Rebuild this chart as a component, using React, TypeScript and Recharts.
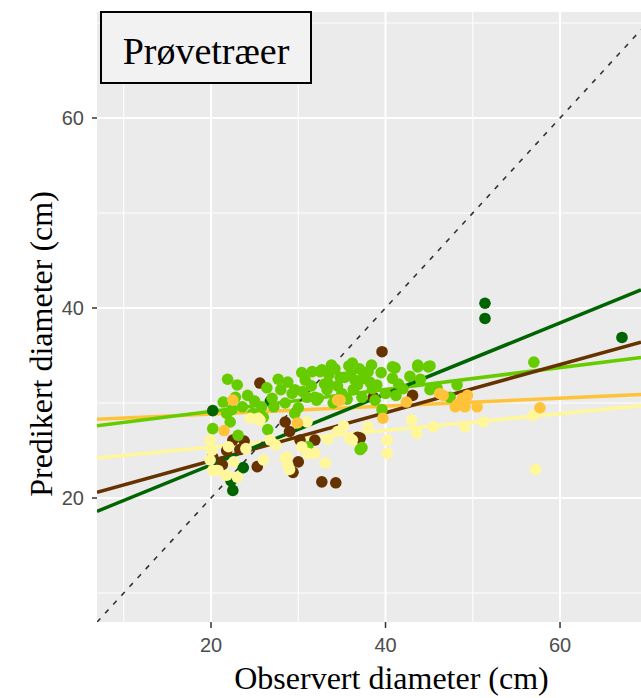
import { ScatterChart, Scatter, XAxis, YAxis, CartesianGrid, ReferenceLine } from "recharts";

// observed (x) vs predicted (y) diameter, one list per tree group
const DARK_GREEN_PTS: [number, number][] = [
  [51.4, 40.5], [51.4, 38.9], [67.1, 36.9], [22.3, 21.8], [22.5, 20.8],
  [23.7, 23.2], [20.2, 29.2], [26.8, 30.2],
];

const BROWN_PTS: [number, number][] = [
  [39.6, 35.4], [43.1, 30.8], [36.8, 26.4], [37.1, 26.3], [31.9, 26.1],
  [32.7, 21.7], [34.3, 21.6], [30.0, 23.8], [29.4, 22.7], [38.6, 30.6],
  [30.2, 26.1], [25.6, 32.1], [28.5, 28.0], [25.3, 23.3], [22.5, 26.1],
  [20.2, 24.3], [23.3, 25.1], [21.3, 23.5], [29.0, 27.0], [21.8, 25.0],
  [23.8, 26.0],
];

const LIGHT_GREEN_PTS: [number, number][] = [
  [45.1, 33.9], [57.0, 34.3], [45.9, 31.6], [48.2, 31.9], [47.4, 30.6],
  [32.5, 33.3], [38.4, 34.0], [41.1, 33.7], [40.8, 32.6], [43.7, 33.8],
  [44.9, 33.8], [37.1, 25.1], [45.1, 31.4], [33.3, 31.4], [36.3, 31.4],
  [39.0, 31.9], [34.8, 32.7], [37.4, 32.6], [32.1, 30.3], [39.6, 29.3],
  [32.7, 33.5], [30.8, 32.4], [29.6, 31.4], [33.4, 32.1], [35.3, 32.7],
  [36.5, 32.4], [38.0, 33.3], [37.3, 30.6], [31.9, 30.6], [29.6, 28.9],
  [37.3, 25.3], [21.9, 32.5], [23.0, 31.9], [24.2, 30.8], [27.7, 32.5],
  [26.4, 31.6], [21.4, 30.1], [22.4, 29.3], [25.8, 29.6], [26.5, 27.2],
  [20.2, 27.3], [22.2, 28.0], [23.1, 26.6], [30.4, 33.2], [31.6, 33.3],
  [29.3, 31.0], [31.0, 30.6], [32.3, 30.5], [24.8, 28.9], [21.8, 28.9],
  [31.1, 25.4], [40.8, 33.8], [43.7, 34.0], [35.0, 31.0], [34.0, 30.0],
  [27.0, 30.5], [28.5, 30.0], [36.0, 33.0], [42.0, 31.5], [40.0, 31.0],
  [30.0, 29.5], [33.5, 33.0], [26.0, 28.5], [41.5, 32.0], [44.0, 32.5],
  [38.5, 31.5], [34.2, 33.6], [35.8, 33.9], [37.0, 33.6], [33.0, 32.0],
  [34.5, 31.8], [36.8, 31.9], [38.2, 32.2], [39.5, 33.2], [31.5, 31.8],
  [30.5, 31.2], [28.0, 31.4], [27.2, 29.6], [25.0, 30.2], [23.6, 29.6],
  [42.8, 32.8], [41.2, 30.8], [35.6, 30.4], [38.8, 30.3], [22.8, 30.6],
  [28.8, 32.2], [36.2, 34.2], [33.8, 34.0],
];

const YELLOW_PTS: [number, number][] = [
  [49.1, 27.5], [51.2, 28.0], [56.9, 28.7], [57.2, 23.0], [43.0, 28.2],
  [43.6, 26.8], [40.2, 26.1], [40.2, 24.7], [33.1, 23.7], [31.9, 24.7],
  [35.9, 26.3], [28.5, 24.2], [36.2, 26.1], [19.9, 26.1], [20.1, 25.0],
  [22.0, 25.4], [20.2, 22.9], [21.8, 22.4], [23.0, 22.2], [24.5, 28.4],
  [25.4, 28.4], [28.7, 24.3], [28.8, 23.5], [26.0, 24.0], [31.1, 24.7],
  [26.8, 26.1], [31.0, 28.0], [19.9, 24.0], [20.8, 22.9], [25.6, 28.2],
  [29.0, 23.0], [34.5, 27.0], [45.5, 27.5], [38.0, 27.5], [24.0, 25.2],
  [27.4, 25.6], [33.4, 26.2], [35.2, 27.6], [22.6, 23.8], [30.4, 25.4],
];

const ORANGE_PTS: [number, number][] = [
  [48.8, 30.5], [49.4, 30.8], [50.5, 29.6], [48.2, 29.8], [49.1, 29.6],
  [57.7, 29.5], [46.6, 30.8], [22.5, 30.3], [21.5, 27.1], [29.9, 27.9],
  [34.8, 30.3], [39.7, 28.4], [42.4, 30.1], [48.0, 29.6], [46.2, 31.0],
  [34.5, 30.3],
];

// fitted lines, y at the left and right edge of the panel
const LINE_X = [6.934, 69.28];
const DARK_GREEN_FIT = [18.6, 41.9];
const BROWN_FIT = [20.6, 36.4];
const LIGHT_GREEN_FIT = [27.6, 34.8];
const ORANGE_FIT = [28.3, 30.9];
const YELLOW_FIT = [24.2, 29.7];

const X_DOMAIN = [6.934, 69.28];
const Y_DOMAIN = [6.947, 71.16];
const MAJOR_TICKS = [20, 40, 60];
const MINOR_TICKS = [10, 30, 50, 70];

const C_DARK_GREEN = "#006400";
const C_BROWN = "#663300";
const C_LIGHT_GREEN = "#66CC00";
const C_YELLOW = "#FFF799";
const C_ORANGE = "#FFC33A";

const toXY = (pts: [number, number][]) => pts.map(([x, y]) => ({ x, y }));
const dot = (color: string) => (p: any) => <circle cx={p.cx} cy={p.cy} r={5.8} fill={color} />;

const fit = (ys: number[]) => [
  { x: LINE_X[0], y: ys[0] },
  { x: LINE_X[1], y: ys[1] },
];

const tickStyle = { fontSize: 20, fill: "#4D4D4D", fontFamily: "'Liberation Sans', Arial, sans-serif" };
const serif = "'Liberation Serif', 'Times New Roman', serif";

export default function App() {
  return (
    <div style={{ position: "absolute", left: 0, top: 0, width: 641, height: 698, overflow: "hidden", background: "#fff" }}>
      <ScatterChart width={641} height={698} margin={{ top: 12, right: 0, bottom: 0, left: 0 }}>
        <CartesianGrid fill="#EBEBEB" stroke="#FFFFFF" strokeWidth={1}
          horizontalValues={MINOR_TICKS} verticalValues={MINOR_TICKS} />
        <CartesianGrid stroke="#FFFFFF" strokeWidth={2}
          horizontalValues={MAJOR_TICKS} verticalValues={MAJOR_TICKS} />
        <XAxis type="number" dataKey="x" domain={X_DOMAIN} ticks={MAJOR_TICKS} allowDataOverflow
          height={76} axisLine={false} tickSize={6} tickMargin={10} tick={tickStyle}
          tickLine={{ stroke: "#333333", strokeWidth: 1.5 }} />
        <YAxis type="number" dataKey="y" domain={Y_DOMAIN} ticks={MAJOR_TICKS} allowDataOverflow
          width={97} axisLine={false} tickSize={5} tickMargin={8} tick={tickStyle}
          tickLine={{ stroke: "#333333", strokeWidth: 1.5 }} />
        <Scatter data={toXY(BROWN_PTS)} shape={dot(C_BROWN)} isAnimationActive={false} />
        <Scatter data={toXY(DARK_GREEN_PTS)} shape={dot(C_DARK_GREEN)} isAnimationActive={false} />
        <Scatter data={toXY(LIGHT_GREEN_PTS)} shape={dot(C_LIGHT_GREEN)} isAnimationActive={false} />
        <Scatter data={toXY(YELLOW_PTS)} shape={dot(C_YELLOW)} isAnimationActive={false} />
        <Scatter data={toXY(ORANGE_PTS)} shape={dot(C_ORANGE)} isAnimationActive={false} />
        <ReferenceLine segment={fit(YELLOW_FIT)} stroke={C_YELLOW} strokeWidth={3.5} ifOverflow="hidden" />
        <ReferenceLine segment={fit(ORANGE_FIT)} stroke={C_ORANGE} strokeWidth={3.5} ifOverflow="hidden" />
        <ReferenceLine segment={fit(LIGHT_GREEN_FIT)} stroke={C_LIGHT_GREEN} strokeWidth={3.5} ifOverflow="hidden" />
        <ReferenceLine segment={fit(BROWN_FIT)} stroke={C_BROWN} strokeWidth={3.5} ifOverflow="hidden" />
        <ReferenceLine segment={fit(DARK_GREEN_FIT)} stroke={C_DARK_GREEN} strokeWidth={3.5} ifOverflow="hidden" />
        <ReferenceLine segment={[{ x: X_DOMAIN[0], y: X_DOMAIN[0] }, { x: X_DOMAIN[1], y: X_DOMAIN[1] }]}
          stroke="#333333" strokeWidth={1.6} strokeDasharray="5 7" ifOverflow="hidden" />
      </ScatterChart>
      <svg width={641} height={698} style={{ position: "absolute", left: 0, top: 0, pointerEvents: "none" }}>
        <rect x={101} y={12} width={210} height={71} fill="#F2F2F2" stroke="#000" strokeWidth={2} />
        <text x={206} y={64} textAnchor="middle" fontSize={38} fontFamily={serif} fill="#000">Prøvetræer</text>
        <text x={391.5} y={689} textAnchor="middle" fontSize={32} fontFamily={serif} fill="#000">Observert diameter (cm)</text>
        <text transform="translate(52,344) rotate(-90)" textAnchor="middle" fontSize={32} fontFamily={serif} fill="#000">Predikert diameter (cm)</text>
      </svg>
    </div>
  );
}
